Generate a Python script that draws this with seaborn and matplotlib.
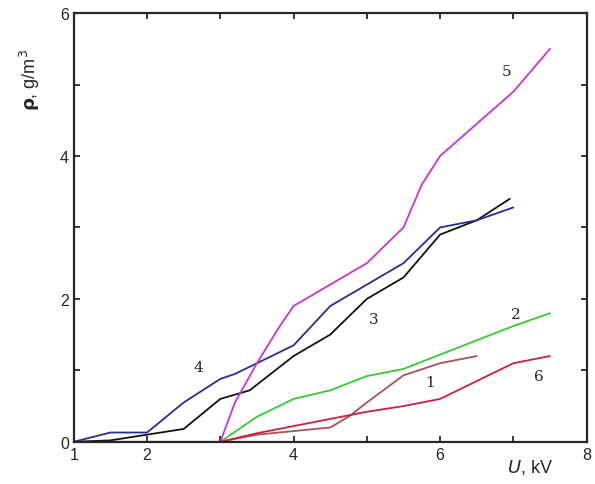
import pandas as pd
import seaborn as sns
import matplotlib.pyplot as plt

# curve values (U in kV, rho in g/m^3)
u1 = [3.0, 3.5, 4.0, 4.5, 4.75, 5.0, 5.5, 6.0, 6.5]
rho1 = [0.0, 0.1, 0.15, 0.2, 0.35, 0.55, 0.93, 1.1, 1.2]

u2 = [3.0, 3.5, 4.0, 4.5, 5.0, 5.5, 6.0, 6.5, 7.0, 7.5]
rho2 = [0.0, 0.35, 0.6, 0.72, 0.92, 1.02, 1.22, 1.42, 1.62, 1.8]

u3 = [1.0, 1.5, 2.0, 2.5, 3.0, 3.4, 4.0, 4.5, 5.0, 5.5, 6.0, 6.5, 6.95]
rho3 = [0.0, 0.02, 0.1, 0.18, 0.6, 0.72, 1.2, 1.5, 2.0, 2.3, 2.9, 3.1, 3.4]

u4 = [1.0, 1.5, 2.0, 2.5, 3.0, 3.2, 3.5, 4.0, 4.5, 5.0, 5.5, 6.0, 6.5, 7.0]
rho4 = [0.0, 0.13, 0.13, 0.55, 0.88, 0.95, 1.1, 1.35, 1.9, 2.2, 2.5, 3.0, 3.1, 3.28]

u5 = [3.0, 3.2, 3.5, 3.8, 4.0, 4.5, 5.0, 5.5, 5.75, 6.0, 6.5, 7.0, 7.5]
rho5 = [0.0, 0.55, 1.1, 1.6, 1.9, 2.2, 2.5, 3.0, 3.6, 4.0, 4.45, 4.9, 5.5]

u6 = [1.0, 3.0, 3.5, 4.0, 4.5, 5.0, 5.5, 6.0, 6.5, 7.0, 7.5]
rho6 = [0.0, 0.0, 0.12, 0.22, 0.32, 0.42, 0.5, 0.6, 0.85, 1.1, 1.2]

curve_names = ["1", "2", "3", "4", "5", "6"]
curve_colors = ["#a8505a", "#33cc33", "#111111", "#2a2a9a", "#cc33cc", "#cc2040"]
label_pos = [(5.86, 0.84), (7.03, 1.79), (5.1, 1.72), (2.7, 1.05), (6.9, 5.19), (7.35, 0.92)]

xticks = [1, 2, 3, 4, 5, 6, 7, 8]
xtick_labels = ["1", "2", "", "4", "", "6", "", "8"]
yticks = [0, 1, 2, 3, 4, 5, 6]
ytick_labels = ["0", "", "2", "", "4", "", "6"]

sns.set_style("ticks")
plt.rcParams["font.family"] = ["Liberation Sans", "DejaVu Sans"]

fig = plt.figure(figsize=(5.95, 4.85), dpi=100)
ax = fig.add_axes([0.124, 0.087, 0.862, 0.884])

all_u = [u1, u2, u3, u4, u5, u6]
all_rho = [rho1, rho2, rho3, rho4, rho5, rho6]
for name, col, u, rho in zip(curve_names, curve_colors, all_u, all_rho):
    df = pd.DataFrame({"U": u, "rho": rho})
    sns.lineplot(x="U", y="rho", data=df, ax=ax, color=col, linewidth=1.3,
                 sort=False, estimator=None)

for name, (tx, ty) in zip(curve_names, label_pos):
    ax.text(tx, ty, name, fontsize=11, family="DejaVu Serif", ha="center", va="center")

ax.set_xlim(1, 8)
ax.set_ylim(0, 6)
ax.set_xticks(xticks)
ax.set_xticklabels(xtick_labels)
ax.set_yticks(yticks)
ax.set_yticklabels(ytick_labels)
ax.tick_params(direction="in", length=4, width=1.3, labelsize=11.5, top=True, right=True)
for sp in ax.spines.values():
    sp.set_linewidth(1.6)
ax.set_xlabel("")
ax.set_ylabel("")

fig.text(530 / 595, 1 - 468 / 485, "$\\mathit{U}$, kV", fontsize=13, ha="center", va="center")
fig.text(30 / 595, 1 - 80 / 485, "$\\mathbf{\\rho}$, g/m$^3$", fontsize=13, rotation=90,
         ha="center", va="center")

fig.savefig("out.png", dpi=100)
